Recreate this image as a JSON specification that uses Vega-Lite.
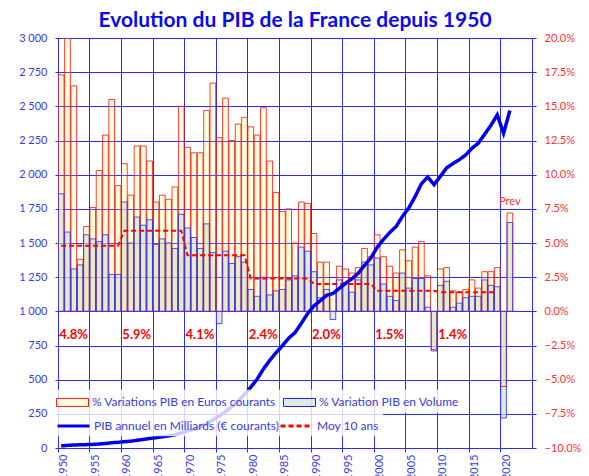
{
  "$schema": "https://vega.github.io/schema/vega-lite/v6.json",
  "width": 474,
  "height": 410,
  "autosize": {"type": "none"},
  "padding": {"left": 58, "top": 38, "right": 57, "bottom": 28},
  "background": "white",
  "config": {
    "view": {"stroke": null},
    "font": "Lato",
    "axis": {"labelFont": "Lato", "titleFont": "Lato"},
    "legend": {"labelFont": "Lato"},
    "text": {"font": "Lato"}
  },
  "title": {
    "text": "Evolution du PIB de la France depuis 1950",
    "font": "Lato",
    "fontSize": 21,
    "fontWeight": "bold",
    "color": "#0a0af0",
    "anchor": "middle",
    "baseline": "alphabetic",
    "offset": -16
  },
  "datasets": {
    "euros": [
      {"annee": 1950, "serie": "% Variations PIB en Euros courants", "valeur": 17.3},
      {"annee": 1951, "serie": "% Variations PIB en Euros courants", "valeur": 23.5},
      {"annee": 1952, "serie": "% Variations PIB en Euros courants", "valeur": 16.5},
      {"annee": 1953, "serie": "% Variations PIB en Euros courants", "valeur": 3.8},
      {"annee": 1954, "serie": "% Variations PIB en Euros courants", "valeur": 6.2},
      {"annee": 1955, "serie": "% Variations PIB en Euros courants", "valeur": 7.6},
      {"annee": 1956, "serie": "% Variations PIB en Euros courants", "valeur": 10.3},
      {"annee": 1957, "serie": "% Variations PIB en Euros courants", "valeur": 12.9},
      {"annee": 1958, "serie": "% Variations PIB en Euros courants", "valeur": 15.5},
      {"annee": 1959, "serie": "% Variations PIB en Euros courants", "valeur": 9.2},
      {"annee": 1960, "serie": "% Variations PIB en Euros courants", "valeur": 10.8},
      {"annee": 1961, "serie": "% Variations PIB en Euros courants", "valeur": 8.5},
      {"annee": 1962, "serie": "% Variations PIB en Euros courants", "valeur": 12.1},
      {"annee": 1963, "serie": "% Variations PIB en Euros courants", "valeur": 12.1},
      {"annee": 1964, "serie": "% Variations PIB en Euros courants", "valeur": 11.0},
      {"annee": 1965, "serie": "% Variations PIB en Euros courants", "valeur": 8.0},
      {"annee": 1966, "serie": "% Variations PIB en Euros courants", "valeur": 8.5},
      {"annee": 1967, "serie": "% Variations PIB en Euros courants", "valeur": 8.2},
      {"annee": 1968, "serie": "% Variations PIB en Euros courants", "valeur": 9.1},
      {"annee": 1969, "serie": "% Variations PIB en Euros courants", "valeur": 15.0},
      {"annee": 1970, "serie": "% Variations PIB en Euros courants", "valeur": 12.0},
      {"annee": 1971, "serie": "% Variations PIB en Euros courants", "valeur": 11.6},
      {"annee": 1972, "serie": "% Variations PIB en Euros courants", "valeur": 11.6},
      {"annee": 1973, "serie": "% Variations PIB en Euros courants", "valeur": 14.7},
      {"annee": 1974, "serie": "% Variations PIB en Euros courants", "valeur": 16.7},
      {"annee": 1975, "serie": "% Variations PIB en Euros courants", "valeur": 12.7},
      {"annee": 1976, "serie": "% Variations PIB en Euros courants", "valeur": 15.6},
      {"annee": 1977, "serie": "% Variations PIB en Euros courants", "valeur": 12.5},
      {"annee": 1978, "serie": "% Variations PIB en Euros courants", "valeur": 13.7},
      {"annee": 1979, "serie": "% Variations PIB en Euros courants", "valeur": 14.2},
      {"annee": 1980, "serie": "% Variations PIB en Euros courants", "valeur": 13.5},
      {"annee": 1981, "serie": "% Variations PIB en Euros courants", "valeur": 12.9},
      {"annee": 1982, "serie": "% Variations PIB en Euros courants", "valeur": 14.9},
      {"annee": 1983, "serie": "% Variations PIB en Euros courants", "valeur": 11.0},
      {"annee": 1984, "serie": "% Variations PIB en Euros courants", "valeur": 8.7},
      {"annee": 1985, "serie": "% Variations PIB en Euros courants", "valeur": 7.3},
      {"annee": 1986, "serie": "% Variations PIB en Euros courants", "valeur": 7.5},
      {"annee": 1987, "serie": "% Variations PIB en Euros courants", "valeur": 5.0},
      {"annee": 1988, "serie": "% Variations PIB en Euros courants", "valeur": 8.0},
      {"annee": 1989, "serie": "% Variations PIB en Euros courants", "valeur": 7.9},
      {"annee": 1990, "serie": "% Variations PIB en Euros courants", "valeur": 5.7},
      {"annee": 1991, "serie": "% Variations PIB en Euros courants", "valeur": 3.6},
      {"annee": 1992, "serie": "% Variations PIB en Euros courants", "valeur": 3.6},
      {"annee": 1993, "serie": "% Variations PIB en Euros courants", "valeur": 1.3},
      {"annee": 1994, "serie": "% Variations PIB en Euros courants", "valeur": 3.3},
      {"annee": 1995, "serie": "% Variations PIB en Euros courants", "valeur": 3.1},
      {"annee": 1996, "serie": "% Variations PIB en Euros courants", "valeur": 2.8},
      {"annee": 1997, "serie": "% Variations PIB en Euros courants", "valeur": 3.2},
      {"annee": 1998, "serie": "% Variations PIB en Euros courants", "valeur": 4.6},
      {"annee": 1999, "serie": "% Variations PIB en Euros courants", "valeur": 4.0},
      {"annee": 2000, "serie": "% Variations PIB en Euros courants", "valeur": 5.6},
      {"annee": 2001, "serie": "% Variations PIB en Euros courants", "valeur": 4.0},
      {"annee": 2002, "serie": "% Variations PIB en Euros courants", "valeur": 3.3},
      {"annee": 2003, "serie": "% Variations PIB en Euros courants", "valeur": 2.8},
      {"annee": 2004, "serie": "% Variations PIB en Euros courants", "valeur": 4.5},
      {"annee": 2005, "serie": "% Variations PIB en Euros courants", "valeur": 3.7},
      {"annee": 2006, "serie": "% Variations PIB en Euros courants", "valeur": 4.7},
      {"annee": 2007, "serie": "% Variations PIB en Euros courants", "valeur": 5.1},
      {"annee": 2008, "serie": "% Variations PIB en Euros courants", "valeur": 2.6},
      {"annee": 2009, "serie": "% Variations PIB en Euros courants", "valeur": -2.8},
      {"annee": 2010, "serie": "% Variations PIB en Euros courants", "valeur": 3.1},
      {"annee": 2011, "serie": "% Variations PIB en Euros courants", "valeur": 3.2},
      {"annee": 2012, "serie": "% Variations PIB en Euros courants", "valeur": 1.5},
      {"annee": 2013, "serie": "% Variations PIB en Euros courants", "valeur": 1.4},
      {"annee": 2014, "serie": "% Variations PIB en Euros courants", "valeur": 1.6},
      {"annee": 2015, "serie": "% Variations PIB en Euros courants", "valeur": 2.3},
      {"annee": 2016, "serie": "% Variations PIB en Euros courants", "valeur": 1.7},
      {"annee": 2017, "serie": "% Variations PIB en Euros courants", "valeur": 2.9},
      {"annee": 2018, "serie": "% Variations PIB en Euros courants", "valeur": 2.9},
      {"annee": 2019, "serie": "% Variations PIB en Euros courants", "valeur": 3.2},
      {"annee": 2020, "serie": "% Variations PIB en Euros courants", "valeur": -5.5},
      {"annee": 2021, "serie": "% Variations PIB en Euros courants", "valeur": 7.2}
    ],
    "volume": [
      {"annee": 1950, "serie": "% Variation PIB en Volume", "valeur": 8.6},
      {"annee": 1951, "serie": "% Variation PIB en Volume", "valeur": 5.8},
      {"annee": 1952, "serie": "% Variation PIB en Volume", "valeur": 3.1},
      {"annee": 1953, "serie": "% Variation PIB en Volume", "valeur": 3.4},
      {"annee": 1954, "serie": "% Variation PIB en Volume", "valeur": 5.6},
      {"annee": 1955, "serie": "% Variation PIB en Volume", "valeur": 5.3},
      {"annee": 1956, "serie": "% Variation PIB en Volume", "valeur": 5.1},
      {"annee": 1957, "serie": "% Variation PIB en Volume", "valeur": 5.6},
      {"annee": 1958, "serie": "% Variation PIB en Volume", "valeur": 2.7},
      {"annee": 1959, "serie": "% Variation PIB en Volume", "valeur": 2.7},
      {"annee": 1960, "serie": "% Variation PIB en Volume", "valeur": 8.0},
      {"annee": 1961, "serie": "% Variation PIB en Volume", "valeur": 5.0},
      {"annee": 1962, "serie": "% Variation PIB en Volume", "valeur": 6.9},
      {"annee": 1963, "serie": "% Variation PIB en Volume", "valeur": 6.3},
      {"annee": 1964, "serie": "% Variation PIB en Volume", "valeur": 6.7},
      {"annee": 1965, "serie": "% Variation PIB en Volume", "valeur": 4.9},
      {"annee": 1966, "serie": "% Variation PIB en Volume", "valeur": 5.3},
      {"annee": 1967, "serie": "% Variation PIB en Volume", "valeur": 5.0},
      {"annee": 1968, "serie": "% Variation PIB en Volume", "valeur": 4.6},
      {"annee": 1969, "serie": "% Variation PIB en Volume", "valeur": 7.1},
      {"annee": 1970, "serie": "% Variation PIB en Volume", "valeur": 6.1},
      {"annee": 1971, "serie": "% Variation PIB en Volume", "valeur": 5.4},
      {"annee": 1972, "serie": "% Variation PIB en Volume", "valeur": 4.6},
      {"annee": 1973, "serie": "% Variation PIB en Volume", "valeur": 6.4},
      {"annee": 1974, "serie": "% Variation PIB en Volume", "valeur": 4.3},
      {"annee": 1975, "serie": "% Variation PIB en Volume", "valeur": -0.9},
      {"annee": 1976, "serie": "% Variation PIB en Volume", "valeur": 4.4},
      {"annee": 1977, "serie": "% Variation PIB en Volume", "valeur": 3.5},
      {"annee": 1978, "serie": "% Variation PIB en Volume", "valeur": 4.0},
      {"annee": 1979, "serie": "% Variation PIB en Volume", "valeur": 3.6},
      {"annee": 1980, "serie": "% Variation PIB en Volume", "valeur": 1.6},
      {"annee": 1981, "serie": "% Variation PIB en Volume", "valeur": 1.1},
      {"annee": 1982, "serie": "% Variation PIB en Volume", "valeur": 2.5},
      {"annee": 1983, "serie": "% Variation PIB en Volume", "valeur": 1.2},
      {"annee": 1984, "serie": "% Variation PIB en Volume", "valeur": 1.5},
      {"annee": 1985, "serie": "% Variation PIB en Volume", "valeur": 1.6},
      {"annee": 1986, "serie": "% Variation PIB en Volume", "valeur": 2.3},
      {"annee": 1987, "serie": "% Variation PIB en Volume", "valeur": 2.6},
      {"annee": 1988, "serie": "% Variation PIB en Volume", "valeur": 4.7},
      {"annee": 1989, "serie": "% Variation PIB en Volume", "valeur": 4.4},
      {"annee": 1990, "serie": "% Variation PIB en Volume", "valeur": 2.9},
      {"annee": 1991, "serie": "% Variation PIB en Volume", "valeur": 1.0},
      {"annee": 1992, "serie": "% Variation PIB en Volume", "valeur": 1.6},
      {"annee": 1993, "serie": "% Variation PIB en Volume", "valeur": -0.6},
      {"annee": 1994, "serie": "% Variation PIB en Volume", "valeur": 2.3},
      {"annee": 1995, "serie": "% Variation PIB en Volume", "valeur": 2.1},
      {"annee": 1996, "serie": "% Variation PIB en Volume", "valeur": 1.4},
      {"annee": 1997, "serie": "% Variation PIB en Volume", "valeur": 2.3},
      {"annee": 1998, "serie": "% Variation PIB en Volume", "valeur": 3.6},
      {"annee": 1999, "serie": "% Variation PIB en Volume", "valeur": 3.4},
      {"annee": 2000, "serie": "% Variation PIB en Volume", "valeur": 3.9},
      {"annee": 2001, "serie": "% Variation PIB en Volume", "valeur": 2.0},
      {"annee": 2002, "serie": "% Variation PIB en Volume", "valeur": 1.1},
      {"annee": 2003, "serie": "% Variation PIB en Volume", "valeur": 0.8},
      {"annee": 2004, "serie": "% Variation PIB en Volume", "valeur": 2.8},
      {"annee": 2005, "serie": "% Variation PIB en Volume", "valeur": 1.7},
      {"annee": 2006, "serie": "% Variation PIB en Volume", "valeur": 2.4},
      {"annee": 2007, "serie": "% Variation PIB en Volume", "valeur": 2.4},
      {"annee": 2008, "serie": "% Variation PIB en Volume", "valeur": 0.3},
      {"annee": 2009, "serie": "% Variation PIB en Volume", "valeur": -2.9},
      {"annee": 2010, "serie": "% Variation PIB en Volume", "valeur": 1.9},
      {"annee": 2011, "serie": "% Variation PIB en Volume", "valeur": 2.2},
      {"annee": 2012, "serie": "% Variation PIB en Volume", "valeur": 0.3},
      {"annee": 2013, "serie": "% Variation PIB en Volume", "valeur": 0.6},
      {"annee": 2014, "serie": "% Variation PIB en Volume", "valeur": 1.0},
      {"annee": 2015, "serie": "% Variation PIB en Volume", "valeur": 1.1},
      {"annee": 2016, "serie": "% Variation PIB en Volume", "valeur": 1.1},
      {"annee": 2017, "serie": "% Variation PIB en Volume", "valeur": 2.3},
      {"annee": 2018, "serie": "% Variation PIB en Volume", "valeur": 1.9},
      {"annee": 2019, "serie": "% Variation PIB en Volume", "valeur": 1.8},
      {"annee": 2020, "serie": "% Variation PIB en Volume", "valeur": -7.8},
      {"annee": 2021, "serie": "% Variation PIB en Volume", "valeur": 6.5}
    ],
    "moy": [
      {"annee": 1950, "serie": "Moy 10 ans", "valeur": 4.8},
      {"annee": 1951, "serie": "Moy 10 ans", "valeur": 4.8},
      {"annee": 1952, "serie": "Moy 10 ans", "valeur": 4.8},
      {"annee": 1953, "serie": "Moy 10 ans", "valeur": 4.8},
      {"annee": 1954, "serie": "Moy 10 ans", "valeur": 4.8},
      {"annee": 1955, "serie": "Moy 10 ans", "valeur": 4.8},
      {"annee": 1956, "serie": "Moy 10 ans", "valeur": 4.8},
      {"annee": 1957, "serie": "Moy 10 ans", "valeur": 4.8},
      {"annee": 1958, "serie": "Moy 10 ans", "valeur": 4.8},
      {"annee": 1959, "serie": "Moy 10 ans", "valeur": 4.8},
      {"annee": 1960, "serie": "Moy 10 ans", "valeur": 5.9},
      {"annee": 1961, "serie": "Moy 10 ans", "valeur": 5.9},
      {"annee": 1962, "serie": "Moy 10 ans", "valeur": 5.9},
      {"annee": 1963, "serie": "Moy 10 ans", "valeur": 5.9},
      {"annee": 1964, "serie": "Moy 10 ans", "valeur": 5.9},
      {"annee": 1965, "serie": "Moy 10 ans", "valeur": 5.9},
      {"annee": 1966, "serie": "Moy 10 ans", "valeur": 5.9},
      {"annee": 1967, "serie": "Moy 10 ans", "valeur": 5.9},
      {"annee": 1968, "serie": "Moy 10 ans", "valeur": 5.9},
      {"annee": 1969, "serie": "Moy 10 ans", "valeur": 5.9},
      {"annee": 1970, "serie": "Moy 10 ans", "valeur": 4.1},
      {"annee": 1971, "serie": "Moy 10 ans", "valeur": 4.1},
      {"annee": 1972, "serie": "Moy 10 ans", "valeur": 4.1},
      {"annee": 1973, "serie": "Moy 10 ans", "valeur": 4.1},
      {"annee": 1974, "serie": "Moy 10 ans", "valeur": 4.1},
      {"annee": 1975, "serie": "Moy 10 ans", "valeur": 4.1},
      {"annee": 1976, "serie": "Moy 10 ans", "valeur": 4.1},
      {"annee": 1977, "serie": "Moy 10 ans", "valeur": 4.1},
      {"annee": 1978, "serie": "Moy 10 ans", "valeur": 4.1},
      {"annee": 1979, "serie": "Moy 10 ans", "valeur": 4.1},
      {"annee": 1980, "serie": "Moy 10 ans", "valeur": 2.4},
      {"annee": 1981, "serie": "Moy 10 ans", "valeur": 2.4},
      {"annee": 1982, "serie": "Moy 10 ans", "valeur": 2.4},
      {"annee": 1983, "serie": "Moy 10 ans", "valeur": 2.4},
      {"annee": 1984, "serie": "Moy 10 ans", "valeur": 2.4},
      {"annee": 1985, "serie": "Moy 10 ans", "valeur": 2.4},
      {"annee": 1986, "serie": "Moy 10 ans", "valeur": 2.4},
      {"annee": 1987, "serie": "Moy 10 ans", "valeur": 2.4},
      {"annee": 1988, "serie": "Moy 10 ans", "valeur": 2.4},
      {"annee": 1989, "serie": "Moy 10 ans", "valeur": 2.4},
      {"annee": 1990, "serie": "Moy 10 ans", "valeur": 2.0},
      {"annee": 1991, "serie": "Moy 10 ans", "valeur": 2.0},
      {"annee": 1992, "serie": "Moy 10 ans", "valeur": 2.0},
      {"annee": 1993, "serie": "Moy 10 ans", "valeur": 2.0},
      {"annee": 1994, "serie": "Moy 10 ans", "valeur": 2.0},
      {"annee": 1995, "serie": "Moy 10 ans", "valeur": 2.0},
      {"annee": 1996, "serie": "Moy 10 ans", "valeur": 2.0},
      {"annee": 1997, "serie": "Moy 10 ans", "valeur": 2.0},
      {"annee": 1998, "serie": "Moy 10 ans", "valeur": 2.0},
      {"annee": 1999, "serie": "Moy 10 ans", "valeur": 2.0},
      {"annee": 2000, "serie": "Moy 10 ans", "valeur": 1.5},
      {"annee": 2001, "serie": "Moy 10 ans", "valeur": 1.5},
      {"annee": 2002, "serie": "Moy 10 ans", "valeur": 1.5},
      {"annee": 2003, "serie": "Moy 10 ans", "valeur": 1.5},
      {"annee": 2004, "serie": "Moy 10 ans", "valeur": 1.5},
      {"annee": 2005, "serie": "Moy 10 ans", "valeur": 1.5},
      {"annee": 2006, "serie": "Moy 10 ans", "valeur": 1.5},
      {"annee": 2007, "serie": "Moy 10 ans", "valeur": 1.5},
      {"annee": 2008, "serie": "Moy 10 ans", "valeur": 1.5},
      {"annee": 2009, "serie": "Moy 10 ans", "valeur": 1.5},
      {"annee": 2010, "serie": "Moy 10 ans", "valeur": 1.4},
      {"annee": 2011, "serie": "Moy 10 ans", "valeur": 1.4},
      {"annee": 2012, "serie": "Moy 10 ans", "valeur": 1.4},
      {"annee": 2013, "serie": "Moy 10 ans", "valeur": 1.4},
      {"annee": 2014, "serie": "Moy 10 ans", "valeur": 1.4},
      {"annee": 2015, "serie": "Moy 10 ans", "valeur": 1.4},
      {"annee": 2016, "serie": "Moy 10 ans", "valeur": 1.4},
      {"annee": 2017, "serie": "Moy 10 ans", "valeur": 1.4},
      {"annee": 2018, "serie": "Moy 10 ans", "valeur": 1.4},
      {"annee": 2019, "serie": "Moy 10 ans", "valeur": 1.4}
    ],
    "decennies": [
      {"annee": 1950, "valeur": -1.7, "texte": "4.8%"},
      {"annee": 1960, "valeur": -1.7, "texte": "5.9%"},
      {"annee": 1970, "valeur": -1.7, "texte": "4.1%"},
      {"annee": 1980, "valeur": -1.7, "texte": "2.4%"},
      {"annee": 1990, "valeur": -1.7, "texte": "2.0%"},
      {"annee": 2000, "valeur": -1.7, "texte": "1.5%"},
      {"annee": 2010, "valeur": -1.7, "texte": "1.4%"}
    ],
    "prev": [
      {"annee": 2021, "valeur": 8.0, "texte": "Prev"}
    ],
    "pib": [
      {"annee": 1950, "serie": "PIB annuel en Milliards (€ courants)", "pib": 15.5},
      {"annee": 1951, "serie": "PIB annuel en Milliards (€ courants)", "pib": 19.2},
      {"annee": 1952, "serie": "PIB annuel en Milliards (€ courants)", "pib": 22.3},
      {"annee": 1953, "serie": "PIB annuel en Milliards (€ courants)", "pib": 23.2},
      {"annee": 1954, "serie": "PIB annuel en Milliards (€ courants)", "pib": 24.6},
      {"annee": 1955, "serie": "PIB annuel en Milliards (€ courants)", "pib": 26.5},
      {"annee": 1956, "serie": "PIB annuel en Milliards (€ courants)", "pib": 29.2},
      {"annee": 1957, "serie": "PIB annuel en Milliards (€ courants)", "pib": 33.0},
      {"annee": 1958, "serie": "PIB annuel en Milliards (€ courants)", "pib": 38.1},
      {"annee": 1959, "serie": "PIB annuel en Milliards (€ courants)", "pib": 41.6},
      {"annee": 1960, "serie": "PIB annuel en Milliards (€ courants)", "pib": 46.1},
      {"annee": 1961, "serie": "PIB annuel en Milliards (€ courants)", "pib": 50.0},
      {"annee": 1962, "serie": "PIB annuel en Milliards (€ courants)", "pib": 56.0},
      {"annee": 1963, "serie": "PIB annuel en Milliards (€ courants)", "pib": 62.8},
      {"annee": 1964, "serie": "PIB annuel en Milliards (€ courants)", "pib": 69.7},
      {"annee": 1965, "serie": "PIB annuel en Milliards (€ courants)", "pib": 75.3},
      {"annee": 1966, "serie": "PIB annuel en Milliards (€ courants)", "pib": 81.7},
      {"annee": 1967, "serie": "PIB annuel en Milliards (€ courants)", "pib": 88.4},
      {"annee": 1968, "serie": "PIB annuel en Milliards (€ courants)", "pib": 96.5},
      {"annee": 1969, "serie": "PIB annuel en Milliards (€ courants)", "pib": 111},
      {"annee": 1970, "serie": "PIB annuel en Milliards (€ courants)", "pib": 124},
      {"annee": 1971, "serie": "PIB annuel en Milliards (€ courants)", "pib": 138},
      {"annee": 1972, "serie": "PIB annuel en Milliards (€ courants)", "pib": 154},
      {"annee": 1973, "serie": "PIB annuel en Milliards (€ courants)", "pib": 177},
      {"annee": 1974, "serie": "PIB annuel en Milliards (€ courants)", "pib": 206},
      {"annee": 1975, "serie": "PIB annuel en Milliards (€ courants)", "pib": 232},
      {"annee": 1976, "serie": "PIB annuel en Milliards (€ courants)", "pib": 268},
      {"annee": 1977, "serie": "PIB annuel en Milliards (€ courants)", "pib": 302},
      {"annee": 1978, "serie": "PIB annuel en Milliards (€ courants)", "pib": 343},
      {"annee": 1979, "serie": "PIB annuel en Milliards (€ courants)", "pib": 392},
      {"annee": 1980, "serie": "PIB annuel en Milliards (€ courants)", "pib": 445},
      {"annee": 1981, "serie": "PIB annuel en Milliards (€ courants)", "pib": 503},
      {"annee": 1982, "serie": "PIB annuel en Milliards (€ courants)", "pib": 578},
      {"annee": 1983, "serie": "PIB annuel en Milliards (€ courants)", "pib": 641},
      {"annee": 1984, "serie": "PIB annuel en Milliards (€ courants)", "pib": 697},
      {"annee": 1985, "serie": "PIB annuel en Milliards (€ courants)", "pib": 748},
      {"annee": 1986, "serie": "PIB annuel en Milliards (€ courants)", "pib": 804},
      {"annee": 1987, "serie": "PIB annuel en Milliards (€ courants)", "pib": 844},
      {"annee": 1988, "serie": "PIB annuel en Milliards (€ courants)", "pib": 912},
      {"annee": 1989, "serie": "PIB annuel en Milliards (€ courants)", "pib": 984},
      {"annee": 1990, "serie": "PIB annuel en Milliards (€ courants)", "pib": 1040},
      {"annee": 1991, "serie": "PIB annuel en Milliards (€ courants)", "pib": 1078},
      {"annee": 1992, "serie": "PIB annuel en Milliards (€ courants)", "pib": 1117},
      {"annee": 1993, "serie": "PIB annuel en Milliards (€ courants)", "pib": 1131},
      {"annee": 1994, "serie": "PIB annuel en Milliards (€ courants)", "pib": 1168},
      {"annee": 1995, "serie": "PIB annuel en Milliards (€ courants)", "pib": 1205},
      {"annee": 1996, "serie": "PIB annuel en Milliards (€ courants)", "pib": 1238},
      {"annee": 1997, "serie": "PIB annuel en Milliards (€ courants)", "pib": 1278},
      {"annee": 1998, "serie": "PIB annuel en Milliards (€ courants)", "pib": 1337},
      {"annee": 1999, "serie": "PIB annuel en Milliards (€ courants)", "pib": 1390},
      {"annee": 2000, "serie": "PIB annuel en Milliards (€ courants)", "pib": 1468},
      {"annee": 2001, "serie": "PIB annuel en Milliards (€ courants)", "pib": 1526},
      {"annee": 2002, "serie": "PIB annuel en Milliards (€ courants)", "pib": 1577},
      {"annee": 2003, "serie": "PIB annuel en Milliards (€ courants)", "pib": 1621},
      {"annee": 2004, "serie": "PIB annuel en Milliards (€ courants)", "pib": 1694},
      {"annee": 2005, "serie": "PIB annuel en Milliards (€ courants)", "pib": 1756},
      {"annee": 2006, "serie": "PIB annuel en Milliards (€ courants)", "pib": 1839},
      {"annee": 2007, "serie": "PIB annuel en Milliards (€ courants)", "pib": 1933},
      {"annee": 2008, "serie": "PIB annuel en Milliards (€ courants)", "pib": 1983},
      {"annee": 2009, "serie": "PIB annuel en Milliards (€ courants)", "pib": 1927},
      {"annee": 2010, "serie": "PIB annuel en Milliards (€ courants)", "pib": 1987},
      {"annee": 2011, "serie": "PIB annuel en Milliards (€ courants)", "pib": 2050},
      {"annee": 2012, "serie": "PIB annuel en Milliards (€ courants)", "pib": 2081},
      {"annee": 2013, "serie": "PIB annuel en Milliards (€ courants)", "pib": 2110},
      {"annee": 2014, "serie": "PIB annuel en Milliards (€ courants)", "pib": 2144},
      {"annee": 2015, "serie": "PIB annuel en Milliards (€ courants)", "pib": 2193},
      {"annee": 2016, "serie": "PIB annuel en Milliards (€ courants)", "pib": 2230},
      {"annee": 2017, "serie": "PIB annuel en Milliards (€ courants)", "pib": 2295},
      {"annee": 2018, "serie": "PIB annuel en Milliards (€ courants)", "pib": 2361},
      {"annee": 2019, "serie": "PIB annuel en Milliards (€ courants)", "pib": 2437},
      {"annee": 2020, "serie": "PIB annuel en Milliards (€ courants)", "pib": 2303},
      {"annee": 2021, "serie": "PIB annuel en Milliards (€ courants)", "pib": 2469}
    ]
  },
  "encoding": {
    "x": {
      "field": "annee",
      "type": "ordinal",
      "scale": {
        "domain": [1950,1951,1952,1953,1954,1955,1956,1957,1958,1959,1960,1961,1962,1963,1964,1965,1966,1967,1968,1969,1970,1971,1972,1973,1974,1975,1976,1977,1978,1979,1980,1981,1982,1983,1984,1985,1986,1987,1988,1989,1990,1991,1992,1993,1994,1995,1996,1997,1998,1999,2000,2001,2002,2003,2004,2005,2006,2007,2008,2009,2010,2011,2012,2013,2014,2015,2016,2017,2018,2019,2020,2021,2022,2023,2024],
        "paddingInner": 0.1,
        "paddingOuter": 0.05
      },
      "axis": {
        "title": null,
        "values": [1950,1955,1960,1965,1970,1975,1980,1985,1990,1995,2000,2005,2010,2015,2020],
        "bandPosition": 0,
        "labelOffset": 3,
        "labelAngle": 270,
        "labelFontSize": 11,
        "labelColor": "#3a3ae0",
        "labelPadding": 2,
        "tickSize": 4,
        "tickColor": "#2b2bff",
        "domainColor": "#2b2bff",
        "grid": true,
        "gridColor": "#2b2bff",
        "gridWidth": 1
      }
    }
  },
  "layer": [
    {
      "encoding": {
        "y": {
          "field": "valeur",
          "type": "quantitative",
          "scale": {"domain": [-10, 20], "nice": false, "zero": false},
          "axis": {
            "orient": "right",
            "title": null,
            "values": [-10,-7.5,-5,-2.5,0,2.5,5,7.5,10,12.5,15,17.5,20],
            "labelExpr": "format(datum.value, '.1f') + '%'",
            "labelFontSize": 11,
            "labelColor": "#ff3030",
            "labelPadding": 8,
            "tickSize": 4,
            "tickColor": "#2b2bff",
            "domainColor": "#2b2bff",
            "grid": false
          }
        }
      },
      "layer": [
        {
          "data": {"name": "volume"},
          "mark": {"type": "bar", "clip": true, "strokeWidth": 0},
          "encoding": {
            "fill": {
              "field": "serie",
              "type": "nominal",
              "scale": {
                "domain": ["% Variations PIB en Euros courants", "% Variation PIB en Volume"],
                "range": ["rgba(255,255,40,0.17)", "rgba(205,222,215,0.65)"]
              },
              "legend": {
                "orient": "none",
                "legendX": -6,
                "legendY": 351.7,
                "direction": "horizontal",
                "columns": 2,
                "title": null,
                "symbolType": "M-1,-0.5H3V0.5H-1Z",
                "symbolSize": 256,
                "symbolStrokeWidth": 1,
                "labelFontSize": 12,
                "labelColor": "#3a3ae0",
                "labelOffset": 19,
                "labelLimit": 400,
                "columnPadding": 5,
                "padding": 4,
                "fillColor": "rgba(255,255,255,0.8)"
              }
            }
          }
        },
        {
          "data": {"name": "euros"},
          "mark": {"type": "bar", "clip": true, "strokeWidth": 1, "strokeOpacity": 0.85},
          "encoding": {
            "fill": {
              "field": "serie",
              "type": "nominal",
              "scale": {
                "domain": ["% Variations PIB en Euros courants", "% Variation PIB en Volume"],
                "range": ["rgba(255,255,40,0.17)", "rgba(205,222,215,0.65)"]
              }
            },
            "stroke": {
              "field": "serie",
              "type": "nominal",
              "scale": {
                "domain": ["% Variations PIB en Euros courants", "% Variation PIB en Volume"],
                "range": ["#ff1a1a", "#1a1aff"]
              }
            }
          }
        },
        {
          "data": {"name": "volume"},
          "mark": {"type": "bar", "clip": true, "filled": false, "stroke": "#3030ff", "strokeOpacity": 1, "strokeWidth": 0.85}
        },
        {
          "data": {"name": "moy"},
          "mark": {"type": "line", "strokeWidth": 2},
          "encoding": {
            "color": {
              "field": "serie",
              "type": "nominal",
              "scale": {
                "domain": ["PIB annuel en Milliards (€ courants)", "Moy 10 ans"],
                "range": ["#0000ee", "#ff0000"]
              },
              "legend": {
                "orient": "none",
                "legendX": -6,
                "legendY": 374.3,
                "direction": "horizontal",
                "columns": 2,
                "title": null,
                "symbolType": "M-1,0H3",
                "symbolSize": 256,
                "symbolStrokeWidth": 3,
                "labelFontSize": 12,
                "labelColor": "#3a3ae0",
                "labelOffset": 19,
                "labelLimit": 400,
                "columnPadding": -5,
                "padding": 4,
                "fillColor": "rgba(255,255,255,0.8)"
              }
            },
            "strokeDash": {
              "field": "serie",
              "type": "nominal",
              "scale": {
                "domain": ["PIB annuel en Milliards (€ courants)", "Moy 10 ans"],
                "range": [[1, 0], [5, 3]]
              }
            }
          }
        },
        {
          "data": {"name": "decennies"},
          "mark": {"type": "text", "align": "left", "baseline": "middle", "dx": -2, "fontSize": 13, "fontWeight": "bold", "color": "#ff0000"},
          "encoding": {"text": {"field": "texte"}}
        },
        {
          "data": {"name": "prev"},
          "mark": {"type": "text", "align": "center", "baseline": "middle", "fontSize": 11, "color": "#ff3030"},
          "encoding": {"text": {"field": "texte"}}
        }
      ]
    },
    {
      "data": {"name": "pib"},
      "mark": {"type": "line", "strokeWidth": 3.5},
      "encoding": {
        "y": {
          "field": "pib",
          "type": "quantitative",
          "scale": {"domain": [0, 3000], "nice": false},
          "axis": {
            "orient": "left",
            "title": null,
            "values": [0,250,500,750,1000,1250,1500,1750,2000,2250,2500,2750,3000],
            "labelExpr": "replace(format(datum.value, ','), ',', ' ')",
            "labelFontSize": 11,
            "labelColor": "#3a3ae0",
            "labelPadding": 8,
            "tickSize": 3,
            "tickColor": "#2b2bff",
            "domainColor": "#2b2bff",
            "grid": true,
            "gridColor": "#2b2bff",
            "gridWidth": 1
          }
        },
        "color": {
          "field": "serie",
          "type": "nominal",
          "scale": {
            "domain": ["PIB annuel en Milliards (€ courants)", "Moy 10 ans"],
            "range": ["#0000ee", "#ff0000"]
          }
        },
        "strokeDash": {
          "field": "serie",
          "type": "nominal",
          "scale": {
            "domain": ["PIB annuel en Milliards (€ courants)", "Moy 10 ans"],
            "range": [[1, 0], [5, 3]]
          }
        }
      }
    }
  ],
  "resolve": {"scale": {"y": "independent"}}
}
